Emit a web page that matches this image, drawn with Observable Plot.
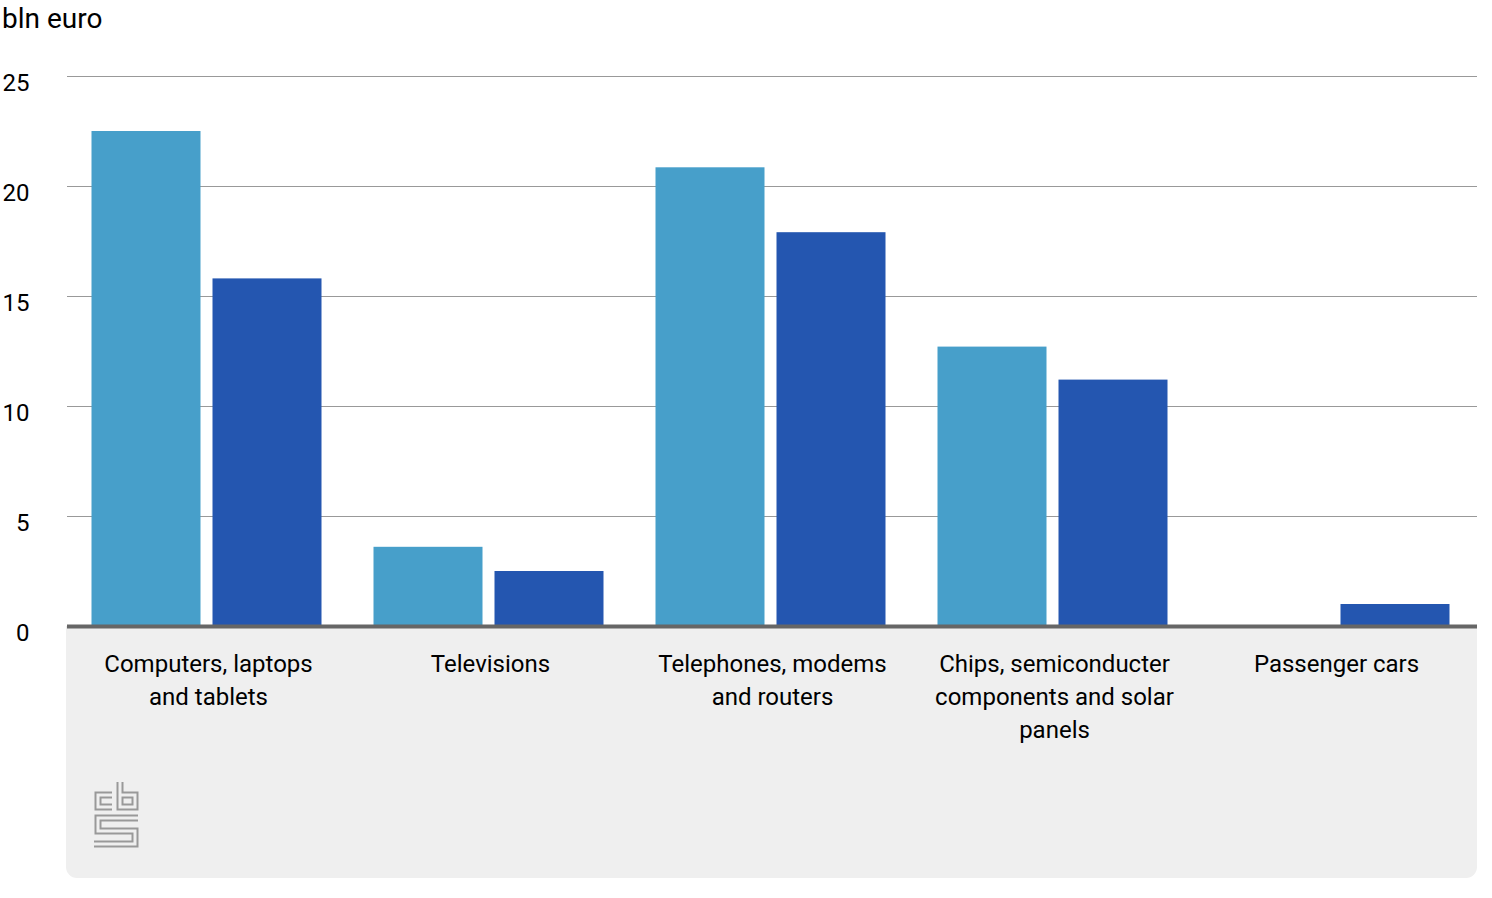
<!DOCTYPE html>
<html><head><meta charset="utf-8">
<script src="https://cdn.jsdelivr.net/npm/d3@7"></script>
<script src="https://cdn.jsdelivr.net/npm/@observablehq/plot@0.6"></script>
<style>body{margin:0;background:#fff;}</style>
</head><body><div id="chart"></div>
<script>
const categories = ["Computers, laptops\nand tablets", "Televisions", "Telephones, modems\nand routers", "Chips, semiconducter\ncomponents and solar\npanels", "Passenger cars"];
const series = ["Series 1", "Series 2"];
const series1Values = [22.5, 3.6, 20.85, 12.7, null];
const series2Values = [15.8, 2.5, 17.9, 11.2, 1.0];
const yTicks = [0, 5, 10, 15, 20, 25];
const yLabel = "bln euro";
const colors = ["#479fca", "#2456b0"];

const data = categories.flatMap((c, i) => [
  {category: c, series: series[0], value: series1Values[i]},
  {category: c, series: series[1], value: series2Values[i]}
]).filter(d => d.value != null);

const W = 1492, H = 898, mL = 66, mR = 15, mT = 76, mB = 272;
const font = "Roboto, 'Noto Sans', sans-serif";

const chart = Plot.plot({
  width: W, height: H,
  marginLeft: mL, marginRight: mR, marginTop: mT, marginBottom: mB,
  style: {fontFamily: font, fontSize: "24px", color: "#000", background: "transparent", overflow: "visible"},
  fx: {domain: categories, padding: 0},
  x: {domain: series, paddingInner: 0.1, paddingOuter: 0.215, axis: null},
  y: {domain: [0, 25]},
  color: {domain: series, range: colors},
  marks: [
    Plot.gridY(yTicks, {stroke: "#999", strokeOpacity: 1, strokeWidth: 1}),
    Plot.barY(data, {fx: "category", x: "series", y: "value", fill: "series", dx: -1.5}),
    Plot.ruleY([0], {stroke: "#666", strokeWidth: 4}),
    Plot.axisY(yTicks, {tickSize: 0, tickPadding: 38, fontSize: 24, dy: 7, label: null, fill: "#000"}),
    Plot.axisFx({anchor: "bottom", tickSize: 0, tickPadding: 22, fontSize: 24, lineHeight: 1.38, label: null, fill: "#000"})
  ]
});

const svg = d3.select(chart);
const y0 = mT + (H - mT - mB);
const x1 = mL, x2 = W - mR, yb = 878, r = 11;
svg.insert("path", ":first-child")
  .attr("d", `M${x1},${y0} H${x2} V${yb - r} A${r},${r} 0 0 1 ${x2 - r},${yb} H${x1 + r} A${r},${r} 0 0 1 ${x1},${yb - r} Z`)
  .attr("fill", "#efefef");

// CBS logo (decoration), outlined strokes
const logo = svg.insert("g", ":nth-child(2)").attr("transform", "translate(94,780)").attr("fill", "none").attr("stroke-linejoin", "miter").attr("stroke-linecap", "butt");
const logoPaths = [
  "M18,15 H4 V27 H18",
  "M26,2 V27 H41 V15 H26",
  "M44,38 H4 V51 H41 V64 H0"
];
logoPaths.forEach(p => {
  logo.append("path").attr("d", p).attr("stroke", "#999").attr("stroke-width", 7);
});
logoPaths.forEach(p => {
  logo.append("path").attr("d", p).attr("stroke", "#efefef").attr("stroke-width", 3);
});

svg.append("text")
  .attr("x", 2).attr("y", 28)
  .attr("text-anchor", "start")
  .attr("font-family", font).attr("font-size", 28).attr("fill", "#000")
  .text(yLabel);

document.getElementById("chart").appendChild(chart);
</script>
</body></html>
